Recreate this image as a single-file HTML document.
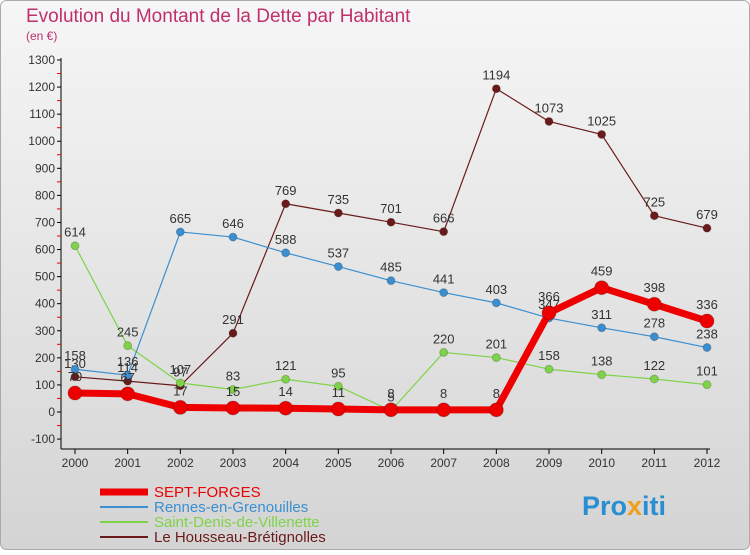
<!DOCTYPE html>
<html><head><meta charset="utf-8"><style>
body{margin:0;width:750px;height:550px;overflow:hidden;font-family:"Liberation Sans",sans-serif}
svg text{font-family:"Liberation Sans",sans-serif}
</style></head><body>
<svg id="c" width="750" height="550">
<defs><linearGradient id="bg" x1="0" y1="0" x2="0" y2="1"><stop offset="0" stop-color="#f6f6f6"/><stop offset="1" stop-color="#d4d4d4"/></linearGradient></defs>
<rect x="0.5" y="0.5" width="749" height="549" rx="6" fill="url(#bg)" stroke="#aaa"/>
<text x="26" y="22" font-size="19" fill="#c0306a">Evolution du Montant de la Dette par Habitant</text>
<text x="26" y="40" font-size="12" fill="#c0306a">(en €)</text>
<g id="axes"></g><g id="series"></g><g id="legend"></g>
<text x="582" y="515" font-size="27" font-weight="bold" fill="#2a8fd0">Pro<tspan fill="#f0a020">x</tspan>iti</text>
</svg>
<script>
const years=[2000,2001,2002,2003,2004,2005,2006,2007,2008,2009,2010,2011,2012];
const yTicks=[-100,0,100,200,300,400,500,600,700,800,900,1000,1100,1200,1300];
const sept=[70,67,17,15,14,11,8,8,8,366,459,398,336];
const rennes=[158,136,665,646,588,537,485,441,403,347,311,278,238];
const stdenis=[614,245,107,83,121,95,5,220,201,158,138,122,101];
const housseau=[130,114,97,291,769,735,701,666,1194,1073,1025,725,679];
const names=["SEPT-FORGES","Rennes-en-Grenouilles","Saint-Denis-de-Villenette","Le Housseau-Brétignolles"];
const NS="http://www.w3.org/2000/svg";
const X=i=>75+i*(707-75)/12, Y=v=>412-v*352/1300;
function mk(t,a,p){const e=document.createElementNS(NS,t);for(const k in a)e.setAttribute(k,a[k]);p.appendChild(e);return e;}
const ax=document.getElementById('axes');
let l=mk('line',{x1:61,y1:58,x2:61,y2:449,stroke:'#000'},ax);
l=mk('line',{x1:61,y1:449,x2:710,y2:449,stroke:'#000'},ax);
yTicks.forEach((v,k)=>{mk('line',{x1:57,y1:Y(v),x2:61,y2:Y(v),stroke:'#000'},ax);if(k<yTicks.length-1)mk('line',{x1:57,y1:Y(v+50),x2:61,y2:Y(v+50),stroke:'#e00'},ax);
const t=mk('text',{x:55,y:Y(v)+4,'font-size':12,'text-anchor':'end',fill:'#333'},ax);t.textContent=v;});
years.forEach((y,i)=>{mk('line',{x1:X(i),y1:449,x2:X(i),y2:454,stroke:'#000'},ax);
const t=mk('text',{x:X(i),y:467,'font-size':12,'text-anchor':'middle',fill:'#333'},ax);t.textContent=y;});
const sg=document.getElementById('series');
function draw(d,col,w,r,name){const g=mk('g',{},sg);
mk('polyline',{points:d.map((v,i)=>X(i)+','+Y(v)).join(' '),fill:'none',stroke:col,'stroke-width':w,'stroke-linejoin':'round'},g);
d.forEach((v,i)=>{const c=mk('circle',{cx:X(i),cy:Y(v),r:r,fill:col,stroke:'#0003'},g);
const t=mk('text',{x:X(i),y:Y(v)-r-5,'font-size':13,'text-anchor':'middle',fill:'#333'},g);t.textContent=v;});}
draw(housseau,'#6b1a1a',1.2,4,'housseau-series');
draw(stdenis,'#7ed348',1.2,4,'stdenis-series');
draw(rennes,'#3b8fd0',1.2,4,'rennes-series');
draw(sept,'#ee0000',7,7,'sept-forges-series');
const lg=document.getElementById('legend');
const cols=['#ee0000','#3b8fd0','#7ed348','#6b1a1a'],ws=[7,2,2,2];
names.forEach((n,i)=>{const y=492+i*15;const g=mk('g',{},lg);
mk('line',{x1:100,y1:y,x2:148,y2:y,stroke:cols[i],'stroke-width':ws[i]},g);
const t=mk('text',{x:154,y:y+5,'font-size':15,fill:cols[i]},g);t.textContent=n;});
</script>
</body></html>
